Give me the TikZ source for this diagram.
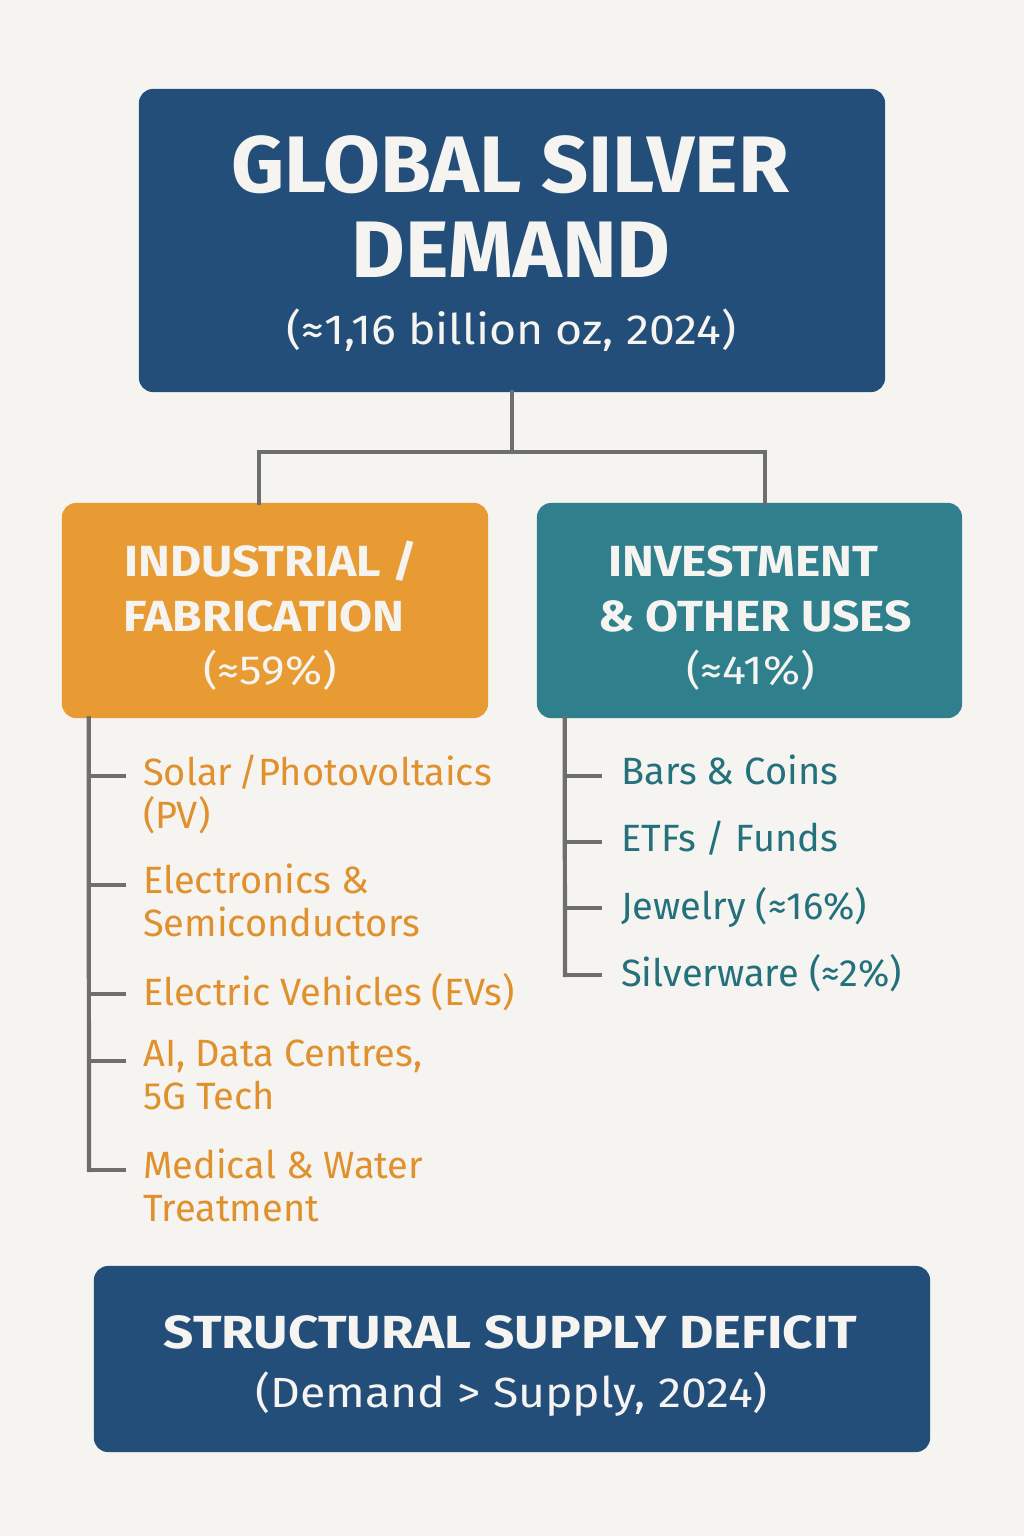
\documentclass[tikz,border=0pt]{standalone}
\usepackage{fontspec}
\setmainfont{Fira Sans}
\newfontfamily\Gtitlefont{Fira Sans}[FakeStretch=1.03]
\newfontfamily\Gwidefont{Fira Sans}[FakeStretch=1.1]
\usetikzlibrary{calc,positioning}
\definecolor{Cnavy}{HTML}{234E7A}
\definecolor{Corange}{HTML}{E89A33}
\definecolor{Cteal}{HTML}{2F7F8C}
\definecolor{Cpaper}{HTML}{F5F4F0}
\definecolor{Cgrey}{HTML}{6E6E6E}
\definecolor{Ctorange}{HTML}{E0912E}
\definecolor{Ctteal}{HTML}{24707C}
\tikzset{%
    Gbox/.style={shape=rectangle,fill=#1,rounded corners=10pt,inner sep=0pt}, Gbox/.default={Cnavy},
    Gtext/.style={anchor=base,text=Cpaper,inner sep=0pt,font=#1}, Gtext/.default={\Gwidefont\fontsize{30}{34}\selectfont},
    Gitem/.style={anchor=north west,text=#1,inner sep=0pt,align=left,font=\fontsize{27}{30.5}\selectfont},
    Gline/.style={draw=Cgrey,line width=3pt,line cap=rect}
}

\begin{document}
\begin{tikzpicture}[x=0.025cm,y=-0.025cm]
        \fill[Cpaper] (0,0) rectangle (1024,1536);
        % boxes
        \node[Gbox=Cnavy,minimum width=18.65cm,minimum height=7.575cm] (Ntop) at (512,240.5) {};
        \node[Gbox=Corange,minimum width=10.65cm,minimum height=5.375cm] (Nind) at (275,610.5) {};
        \node[Gbox=Cteal,minimum width=10.625cm,minimum height=5.375cm] (Ninv) at (749.5,610.5) {};
        \node[Gbox=Cnavy,minimum width=20.9cm,minimum height=4.65cm] (Ndef) at (512,1359) {};
        % box texts
        \node[Gtext={\Gtitlefont\fontsize{57}{60}\selectfont\bfseries}] (Ttop1) at (510,193) {GLOBAL SILVER};
        \node[Gtext={\Gtitlefont\fontsize{57}{60}\selectfont\bfseries}] (Ttop2) at (511,278) {DEMAND};
        \node[Gtext] (Ttop3) at (511.5,344) {(≈1,16 billion oz, 2024)};
        \node[Gtext={\Gwidefont\fontsize{31}{34}\selectfont\bfseries}] (Tind1) at (271,576) {INDUSTRIAL /};
        \node[Gtext={\Gwidefont\fontsize{31}{34}\selectfont\bfseries}] (Tind2) at (264,631) {FABRICATION};
        \node[Gtext={\Gwidefont\fontsize{29}{34}\selectfont}] (Tind3) at (270,684) {(≈59\%)};
        \node[Gtext={\Gwidefont\fontsize{31}{34}\selectfont\bfseries}] (Tinv1) at (743.5,576) {INVESTMENT};
        \node[Gtext={\Gwidefont\fontsize{31}{34}\selectfont\bfseries}] (Tinv2) at (755,631) {\&~OTHER USES};
        \node[Gtext={\Gwidefont\fontsize{29}{34}\selectfont}] (Tinv3) at (750.5,684) {(≈41\%)};
        \node[Gtext={\Gwidefont\fontsize{33}{36}\selectfont\bfseries\addfontfeature{FakeStretch=1.14}}] (Tdef1) at (510.5,1348) {STRUCTURAL SUPPLY DEFICIT};
        \node[Gtext] (Tdef2) at (511.5,1407) {(Demand > Supply, 2024)};
        % top connectors
        \coordinate (Njoin) at (512,452);
        \draw[Gline] (Ntop.south) -- (Njoin) -| ($(Nind.north)+(-16,0)$);
        \draw[Gline] (Njoin) -| ($(Ninv.north)+(15.5,0)$);
        % industrial uses
        \node[Gitem=Ctorange] (Ia) at (143,755) {Solar\,/Photovoltaics\\(PV)};
        \node[Gitem=Ctorange] (Ib) at (143,864) {Electronics \&\\Semiconductors};
        \node[Gitem=Ctorange] (Ic) at (143,973) {Electric Vehicles (EVs)};
        \node[Gitem=Ctorange] (Id) at (143,1040) {AI, Data Centres,\\5G Tech};
        \node[Gitem=Ctorange] (Ie) at (143,1149) {Medical \& Water\\Treatment};
        \draw[Gline] ($(Nind.south west)+(27,0)$) -- ($(Ie.north west)+(-54,21)$);
        \foreach \c in {Ia,Ib,Ic,Id,Ie}
            \draw[Gline] ($(\c.north west)+(-54,21)$) -- ++(35,0);
        % investment uses
        \node[Gitem=Ctteal] (Ja) at (621,755) {Bars \& Coins};
        \node[Gitem=Ctteal] (Jb) at (621,821) {ETFs / Funds};
        \node[Gitem=Ctteal] (Jc) at (621,887) {Jewelry (≈16\%)};
        \node[Gitem=Ctteal] (Jd) at (621,954) {Silverware (≈2\%)};
        \draw[Gline] ($(Ninv.south west)+(28,0)$) -- ($(Jd.north west)+(-56,21)$);
        \foreach \c in {Ja,Jb,Jc,Jd}
            \draw[Gline] ($(\c.north west)+(-56,21)$) -- ++(35,0);
\end{tikzpicture}
\end{document}
